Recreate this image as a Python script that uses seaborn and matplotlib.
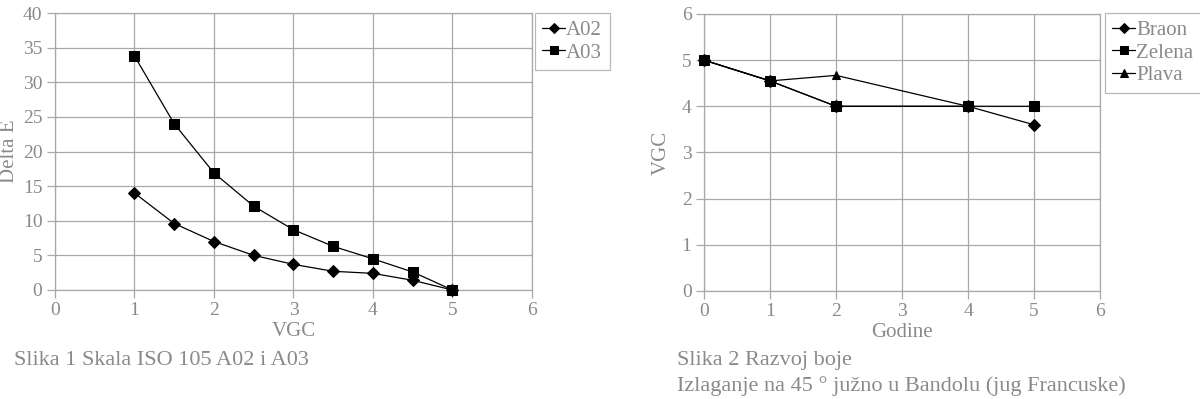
import numpy as np
import pandas as pd
import seaborn as sns
import matplotlib.pyplot as plt

# chart 1 data
vgc = [1, 1.5, 2, 2.5, 3, 3.5, 4, 4.5, 5]
a02 = [14.0, 9.6, 7.0, 5.0, 3.7, 2.7, 2.4, 1.4, 0.0]
a03 = [33.8, 24.0, 16.9, 12.1, 8.7, 6.3, 4.5, 2.6, 0.0]

# chart 2 data
godine = [0, 1, 2, 4, 5]
braon = [5.0, 4.55, 4.0, 4.0, 3.6]
zelena = [5.0, 4.55, 4.0, 4.0, 4.0]
plava = [5.0, 4.55, 4.67, 4.0, np.nan]

sns.set_style("white", {"xtick.bottom": True, "ytick.left": True})
plt.rcParams['font.family'] = ['Liberation Serif', 'DejaVu Serif']

GRAY = "#8a8a8a"
GRID = "#a8a8a8"

fig = plt.figure(figsize=(12, 3.99), dpi=100)


def style_axes(ax, xlabel, ylabel, ylab_x):
    ax.grid(True, color=GRID, linewidth=0.9)
    ax.set_axisbelow(True)
    for s in ax.spines.values():
        s.set_color(GRID)
        s.set_linewidth(0.9)
    ax.tick_params(axis='both', colors=GRID, labelcolor=GRAY, labelsize=14,
                   length=6, width=0.9, direction='out',
                   bottom=True, left=True, pad=3)
    ax.set_xlabel(xlabel, color=GRAY, fontsize=15, labelpad=2)
    ax.set_ylabel(ylabel, color=GRAY, fontsize=15)
    ax.yaxis.set_label_coords(ylab_x, 0.5)


def draw(ax, df, x, markers, sizes):
    for name, mk in markers.items():
        sub = df[df["series"] == name]
        sns.lineplot(data=sub, x=x, y="value", ax=ax, color="black",
                     linewidth=0.9, marker=mk, markersize=sizes[name],
                     markeredgecolor="black", label=name, estimator=None,
                     clip_on=False, zorder=3)


def add_legend(ax, x0):
    leg = ax.legend(loc="upper left", bbox_to_anchor=(x0, 0.967),
                    bbox_transform=fig.transFigure, frameon=True, fancybox=False,
                    fontsize=15, handlelength=1.1, handletextpad=0.05,
                    borderpad=0.35, labelspacing=0.15, borderaxespad=0,
                    markerscale=0.9)
    leg.get_frame().set_edgecolor(GRID)
    leg.get_frame().set_linewidth(0.9)
    for t in leg.get_texts():
        t.set_color(GRAY)
    return leg


# chart 1
df1 = pd.DataFrame({
    "VGC": vgc * 2,
    "value": a02 + a03,
    "series": ["A02"] * len(vgc) + ["A03"] * len(vgc),
})
ax1 = fig.add_axes([0.0458, 0.2732, 0.3975, 0.6942])
draw(ax1, df1, "VGC", {"A02": "D", "A03": "s"}, {"A02": 6, "A03": 6.5})
ax1.set_xlim(0, 6)
ax1.set_ylim(0, 40)
ax1.set_xticks(range(0, 7))
ax1.set_yticks(range(0, 41, 5))
style_axes(ax1, "VGC", "Delta E", -0.075)
add_legend(ax1, 0.4458)

# chart 2
df2 = pd.DataFrame({
    "Godine": godine * 3,
    "value": braon + zelena + plava,
    "series": ["Braon"] * 5 + ["Zelena"] * 5 + ["Plava"] * 5,
})
ax2 = fig.add_axes([0.5867, 0.2707, 0.33, 0.6943])
draw(ax2, df2, "Godine", {"Braon": "D", "Zelena": "s", "Plava": "^"},
     {"Braon": 6, "Zelena": 6.5, "Plava": 6})
ax2.set_xlim(0, 6)
ax2.set_ylim(0, 6)
ax2.set_xticks(range(0, 7))
ax2.set_yticks(range(0, 7))
style_axes(ax2, "Godine", "VGC", -0.085)
add_legend(ax2, 0.921)

# captions
fig.text(0.012, 0.085, "Slika 1 Skala ISO 105 A02 i A03", color=GRAY, fontsize=16)
fig.text(0.564, 0.085, "Slika 2 Razvoj boje", color=GRAY, fontsize=16)
fig.text(0.564, 0.02, "Izlaganje na 45 \u00b0 južno u Bandolu (jug Francuske)",
         color=GRAY, fontsize=16)

fig.savefig("out.png", dpi=100)
